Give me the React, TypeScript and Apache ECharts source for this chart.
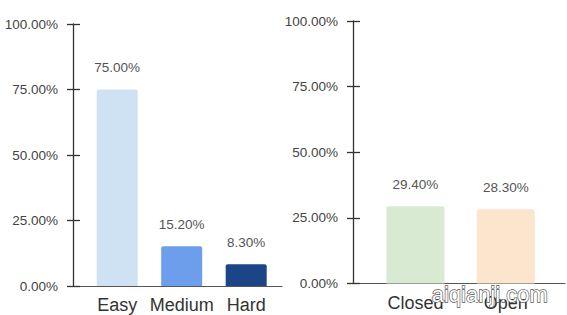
import React, { useEffect, useRef } from "react";
import * as echarts from "echarts";

const difficultyCats = ["Easy", "Medium", "Hard"];
const difficultyValues = [75.0, 15.2, 8.3];
const difficultyColors = ["#cfe2f3", "#6d9eeb", "#1c4587"];

const statusCats = ["Closed", "Open"];
const statusValues = [29.4, 28.3];
const statusColors = ["#d9ead3", "#fce5cd"];

const yTicks = [0, 25, 50, 75, 100];

const FONT = "'Liberation Sans', Arial, sans-serif";

const pct = (v: number) => v.toFixed(2) + "%";

function yAxesFor(gridIndex: number) {
  return [
    {
      type: "value",
      gridIndex,
      position: "left",
      min: yTicks[0],
      max: yTicks[yTicks.length - 1],
      interval: 25,
      axisLine: { show: true, onZero: false, lineStyle: { color: "#333", width: 1.3 } },
      axisTick: { show: true, length: 6, lineStyle: { color: "#333", width: 1.3 } },
      splitLine: { show: false },
      axisLabel: {
        formatter: (v: number) => pct(v),
        color: "#444",
        fontSize: 13.5,
        fontFamily: FONT,
        margin: 15,
      },
    },
    {
      type: "value",
      gridIndex,
      position: "left",
      min: yTicks[0],
      max: yTicks[yTicks.length - 1],
      interval: 25,
      axisLine: { show: false, onZero: false },
      axisTick: { show: true, inside: true, length: 7, lineStyle: { color: "#333", width: 1.3 } },
      splitLine: { show: false },
      axisLabel: { show: false },
    },
  ];
}

function xAxisFor(gridIndex: number, cats: string[], min: number, max: number) {
  return {
    type: "value",
    gridIndex,
    min,
    max,
    axisLine: { show: true, onZero: false, lineStyle: { color: "#555", width: 1.2 } },
    axisTick: { show: false },
    splitLine: { show: false },
    axisLabel: {
      customValues: cats.map((_, i) => i),
      formatter: (v: number) => cats[Math.round(v)] ?? "",
      color: "#333",
      fontSize: 18,
      fontFamily: FONT,
      margin: 10,
    },
  };
}

function barSeries(
  xAxisIndex: number,
  yAxisIndex: number,
  values: number[],
  colors: string[],
  width: number
) {
  return {
    type: "bar",
    xAxisIndex,
    yAxisIndex,
    barWidth: width,
    data: values.map((v, i) => ({ value: [i, v], itemStyle: { color: colors[i] } })),
    itemStyle: { borderRadius: [2, 2, 0, 0] },
    label: {
      show: true,
      position: "top",
      distance: 15,
      formatter: (p: any) => pct(p.value[1]),
      color: "#555",
      fontSize: 13.5,
      fontFamily: FONT,
    },
  };
}

export default function App() {
  const ref = useRef<HTMLDivElement>(null);
  useEffect(() => {
    if (!ref.current) return;
    const chart = echarts.init(ref.current, undefined, { renderer: "svg" });
    const [y0a, y0b] = yAxesFor(0);
    const [y1a, y1b] = yAxesFor(1);
    chart.setOption({
      animation: false,
      backgroundColor: "#fff",
      textStyle: { fontFamily: FONT },
      grid: [
        { left: 73, right: 285, top: 24, bottom: 29 },
        { left: 353, right: 2, top: 21, bottom: 31.5 },
      ],
      xAxis: [
        xAxisFor(0, difficultyCats, -0.685, 2.555),
        xAxisFor(1, statusCats, -0.692, 1.656),
      ],
      yAxis: [y0a, y0b, y1a, y1b],
      series: [
        barSeries(0, 0, difficultyValues, difficultyColors, 41),
        barSeries(1, 2, statusValues, statusColors, 58),
      ],
      graphic: [
        {
          type: "text",
          left: 431,
          top: 283,
          z: 100,
          style: {
            text: "aiqianji.com",
            fontSize: 22,
            fontFamily: FONT,
            fill: "#fff",
            stroke: "#555",
            lineWidth: 1.3,
          },
        },
      ],
    });
    return () => chart.dispose();
  }, []);
  return (
    <div
      ref={ref}
      style={{ position: "fixed", left: 0, top: 0, width: 567, height: 315 }}
    />
  );
}
